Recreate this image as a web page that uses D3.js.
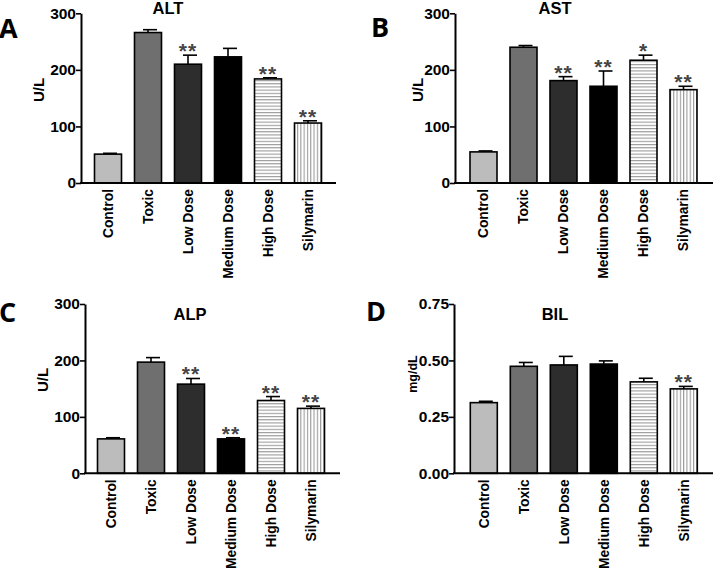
<!DOCTYPE html>
<html><head><meta charset="utf-8">
<script src="https://cdn.jsdelivr.net/npm/d3@7"></script>
<style>body{margin:0;background:#fff}svg{display:block}</style>
</head><body>
<script>
const categories = ["Control","Toxic","Low Dose","Medium Dose","High Dose","Silymarin"];
const altMean = [51,266,210,223,184,106];
const altSem  = [1.5,5,16,15,2,4];
const altSig  = ["","","**","","**","**"];
const astMean = [55,240,181,171,217,165];
const astSem  = [1.7,3,7,27,9,6];
const astSig  = ["","","**","**","*","**"];
const alpMean = [61,197,158,61,129,115];
const alpSem  = [2,8,10,2,7,4];
const alpSig  = ["","","**","**","**","**"];
const bilMean = [0.313,0.474,0.480,0.484,0.405,0.374];
const bilSem  = [0.006,0.017,0.038,0.014,0.016,0.011];
const bilSig  = ["","","","","","**"];
const ulTicks = [0,100,200,300];
const bilTicks = [0,0.25,0.5,0.75];

const W=714,H=569;
const svg=d3.select("body").append("svg").attr("width",W).attr("height",H);
const defs=svg.append("defs");
const ph=defs.append("pattern").attr("id","hstripe").attr("patternUnits","userSpaceOnUse").attr("width",4).attr("height",3.2);
ph.append("rect").attr("width",4).attr("height",3.2).attr("fill","#fff");
ph.append("rect").attr("y",0).attr("width",4).attr("height",1.1).attr("fill","#9a9a9a");
const pv=defs.append("pattern").attr("id","vstripe").attr("patternUnits","userSpaceOnUse").attr("width",3.3).attr("height",4);
pv.append("rect").attr("width",3.3).attr("height",4).attr("fill","#fff");
pv.append("rect").attr("x",0).attr("width",1.1).attr("height",4).attr("fill","#9a9a9a");
const fills=["#bcbcbc","#6f6f6f","#2d2d2d","#000","url(#hstripe)","url(#vstripe)"];

const font="Liberation Sans";

function panel(o){
  const g=svg.append("g");
  const y=d3.scaleLinear().domain([0,o.max]).range([o.y0,o.yTop]);
  const x=d3.scaleBand().domain(categories).range([o.bx0,o.bx0+240]).paddingInner(0.325).paddingOuter(0.1625);
  categories.forEach((c,i)=>{
    const cx=x(c)+x.bandwidth()/2;
    const top=y(o.mean[i]), et=y(o.mean[i]+o.sem[i]);
    g.append("line").attr("x1",cx).attr("x2",cx).attr("y1",top).attr("y2",et).attr("stroke","#000").attr("stroke-width",1.6);
    g.append("line").attr("x1",cx-5).attr("x2",cx+9).attr("y1",et).attr("y2",et).attr("stroke","#000").attr("stroke-width",1.6);
    g.append("rect").attr("x",x(c)).attr("y",top).attr("width",x.bandwidth()).attr("height",o.y0-top)
      .attr("fill",fills[i]).attr("stroke","#000").attr("stroke-width",1.6);
    if(o.sig[i]) g.append("text").attr("x",cx).attr("y",et+3).attr("text-anchor","middle")
      .attr("font-family",font).attr("font-weight","bold").attr("font-size",21).attr("letter-spacing",1).attr("fill","#444").text(o.sig[i]);
  });
  const ya=d3.axisLeft(y).tickValues(o.ticks).tickSize(5).tickSizeOuter(0).tickFormat(o.fmt);
  const ag=g.append("g").attr("transform",`translate(${o.ax},0)`).call(ya);
  ag.select(".domain").attr("stroke-width",2);
  ag.selectAll(".tick line").attr("stroke-width",1.6);
  ag.selectAll("text").attr("font-family",font).attr("font-weight","bold").attr("font-size",15.5).attr("fill","#000").attr("x",-5);
  g.append("line").attr("x1",o.ax-1).attr("x2",o.axEnd).attr("y1",o.y0).attr("y2",o.y0).attr("stroke","#000").attr("stroke-width",2);
  const xa=d3.axisBottom(x).tickSize(0);
  const xg=g.append("g").attr("transform",`translate(0,${o.y0})`).call(xa);
  xg.select(".domain").remove();
  xg.selectAll("text").attr("font-family",font).attr("font-weight","bold").attr("font-size",13.8).attr("fill","#000")
    .attr("transform","rotate(-90)").attr("text-anchor","end").attr("x",-6).attr("y",0).attr("dy","0.36em");
  g.append("text").attr("x",o.tx).attr("y",o.ty).attr("text-anchor","middle").attr("font-family",font)
    .attr("font-weight","bold").attr("font-size",16.5).text(o.title);
  g.append("text").attr("x",o.lx).attr("y",o.ly).attr("font-family","Open Sans")
    .attr("font-weight","bold").attr("font-size",27).text(o.letter);
  g.append("text").attr("transform",`translate(${o.ylx},${o.yly}) rotate(-90)`).attr("text-anchor","middle")
    .attr("dy","0.36em").attr("font-family",font).attr("font-weight","bold").attr("font-size",o.ylfs).text(o.ylabel);
}

const fmt0=d3.format("d"), fmt2=d3.format(".2f");
panel({mean:altMean,sem:altSem,sig:altSig,max:300,ticks:ulTicks,fmt:fmt0,y0:183,yTop:13.3,bx0:88,ax:81,axEnd:336,
  title:"ALT",tx:168,ty:14,letter:"A",lx:-1,ly:38,ylabel:"U/L",ylx:39,yly:90,ylfs:15});
panel({mean:astMean,sem:astSem,sig:astSig,max:300,ticks:ulTicks,fmt:fmt0,y0:183,yTop:13.3,bx0:463.5,ax:455,axEnd:713,
  title:"AST",tx:555,ty:14,letter:"B",lx:371,ly:37,ylabel:"U/L",ylx:418,yly:90,ylfs:15});
panel({mean:alpMean,sem:alpSem,sig:alpSig,max:300,ticks:ulTicks,fmt:fmt0,y0:473.3,yTop:304,bx0:91,ax:85,axEnd:340,
  title:"ALP",tx:190,ty:320,letter:"C",lx:-1,ly:322,ylabel:"U/L",ylx:43,yly:380,ylfs:15});
panel({mean:bilMean,sem:bilSem,sig:bilSig,max:0.75,ticks:bilTicks,fmt:fmt2,y0:473.3,yTop:304,bx0:463.8,ax:454,axEnd:713,
  title:"BIL",tx:555,ty:320,letter:"D",lx:366,ly:321,ylabel:"mg/dL",ylx:412,yly:374,ylfs:12.5});
</script>
</body></html>
